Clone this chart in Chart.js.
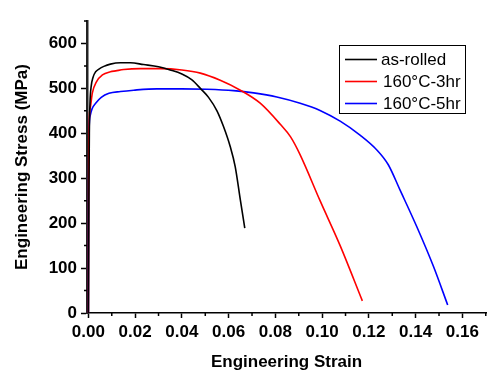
<!DOCTYPE html>
<html>
<head>
<meta charset="utf-8">
<script src="https://cdn.jsdelivr.net/npm/chart.js@4/dist/chart.umd.min.js"></script>
<style>
html,body{margin:0;padding:0;background:#fff;}
#wrap{width:494px;height:383px;position:relative;}
</style>
</head>
<body>
<div id="wrap"><canvas id="c" width="494" height="383"></canvas></div>
<script>
// ---- data ----
const seriesLabels = ['as-rolled', '160\u00B0C-3hr', '160\u00B0C-5hr'];
const seriesColors = ['#000000', '#ff0000', '#0000ff'];

const asRolledStrain = [0, 0.0002, 0.0004, 0.0007, 0.0012, 0.002, 0.0031, 0.0045, 0.0066, 0.0094, 0.0137, 0.018, 0.0236, 0.030, 0.035, 0.040, 0.0443, 0.0479, 0.0514, 0.055, 0.0578, 0.0607, 0.0628, 0.065, 0.0669];
const asRolledStress = [0, 250, 400, 470, 505, 525, 537, 543, 549, 554, 557, 557, 553, 548, 541, 532, 519, 500, 480, 450, 415, 370, 326, 252, 189];

const h3Strain = [0, 0.0001, 0.0003, 0.0009, 0.0017, 0.0035, 0.006, 0.0094, 0.0117, 0.0151, 0.0222, 0.0308, 0.040, 0.0479, 0.0564, 0.065, 0.0735, 0.0821, 0.0865, 0.0906, 0.0991, 0.1077, 0.1172];
const h3Stress = [0, 300, 420, 460, 490, 515, 530, 537, 539, 542, 544, 544, 541, 534, 518, 496, 467, 420, 392, 352, 250, 150, 27];

const h5Strain = [0, 0.0001, 0.0003, 0.0008, 0.0016, 0.0031, 0.0055, 0.0088, 0.0137, 0.0194, 0.0293, 0.040, 0.0507, 0.0621, 0.0707, 0.0806, 0.0906, 0.0991, 0.1077, 0.1162, 0.1234, 0.1283, 0.1333, 0.1405, 0.1476, 0.1537];
const h5Stress = [0, 300, 410, 440, 455, 467, 480, 489, 493, 496, 499, 499, 498, 495, 490, 481, 467, 451, 427, 396, 363, 330, 274, 192, 104, 18];

const xTickValues = [0, 0.02, 0.04, 0.06, 0.08, 0.10, 0.12, 0.14, 0.16];
const xMinorValues = [0.01, 0.03, 0.05, 0.07, 0.09, 0.11, 0.13, 0.15, 0.17];
const yTickValues = [0, 100, 200, 300, 400, 500, 600];
const yMinorValues = [50, 150, 250, 350, 450, 550, 650];

const xTitle = 'Engineering Strain';
const yTitle = 'Engineering Stress (MPa)';

// ---- build ----
const toPts = (xs, ys) => xs.map((x, i) => ({x: x, y: ys[i]}));
const FONT = '"Liberation Sans", Arial, Helvetica, sans-serif';

const minorTicks = {
  id: 'minorTicks',
  afterDraw(chart) {
    const ctx = chart.ctx;
    const xs = chart.scales.x, ys = chart.scales.y;
    ctx.save();
    ctx.strokeStyle = '#000';
    ctx.lineWidth = 1.5;
    ctx.beginPath();
    xMinorValues.forEach(v => {
      if (v > xs.max + 1e-9) return;
      const px = xs.getPixelForValue(v);
      ctx.moveTo(px, ys.bottom);
      ctx.lineTo(px, ys.bottom + 3);
    });
    yMinorValues.forEach(v => {
      if (v > ys.max + 1e-9) return;
      const py = ys.getPixelForValue(v);
      ctx.moveTo(xs.left, py);
      ctx.lineTo(xs.left - 3, py);
    });
    ctx.stroke();
    ctx.restore();
  }
};

const boxLegend = {
  id: 'boxLegend',
  afterDraw(chart) {
    const ctx = chart.ctx;
    const x0 = 339.5, y0 = 45.5, w = 126, h = 68;
    ctx.save();
    ctx.fillStyle = '#fff';
    ctx.fillRect(x0, y0, w, h);
    ctx.strokeStyle = '#000';
    ctx.lineWidth = 1;
    ctx.strokeRect(x0, y0, w, h);
    ctx.font = '17px ' + FONT;
    ctx.textBaseline = 'middle';
    ctx.textAlign = 'left';
    const rows = [59.5, 81.5, 103.5];
    chart.data.datasets.forEach((ds, i) => {
      const y = rows[i];
      ctx.strokeStyle = ds.borderColor;
      ctx.lineWidth = 1.6;
      ctx.beginPath();
      ctx.moveTo(345, y);
      ctx.lineTo(377, y);
      ctx.stroke();
      ctx.fillStyle = '#000';
      ctx.fillText(ds.label, i === 0 ? 381 : 383, y + 1);
    });
    ctx.restore();
  }
};

new Chart(document.getElementById('c'), {
  type: 'line',
  data: {
    datasets: [
      {label: seriesLabels[0], data: toPts(asRolledStrain, asRolledStress), borderColor: seriesColors[0]},
      {label: seriesLabels[1], data: toPts(h3Strain, h3Stress), borderColor: seriesColors[1]},
      {label: seriesLabels[2], data: toPts(h5Strain, h5Stress), borderColor: seriesColors[2]}
    ].map(d => Object.assign(d, {borderWidth: 1.6, pointRadius: 0, fill: false, cubicInterpolationMode: 'monotone'}))
  },
  options: {
    responsive: false,
    animation: false,
    devicePixelRatio: 1,
    layout: {padding: {left: 0, top: 21, right: 8, bottom: 0}},
    plugins: {legend: {display: false}, tooltip: {enabled: false}},
    scales: {
      x: {
        type: 'linear',
        min: -0.0006,
        max: 0.1701,
        afterBuildTicks: s => { s.ticks = xTickValues.map(v => ({value: v})); },
        afterFit: s => { s.height = 70; },
        border: {display: true, color: '#000', width: 1.5},
        grid: {display: true, drawOnChartArea: false, drawTicks: true, tickLength: 5, tickColor: '#000', tickWidth: 1.5},
        ticks: {
          color: '#000', padding: 4, maxRotation: 0,
          font: {family: FONT, size: 17, weight: 'bold'},
          callback: v => v.toFixed(2)
        },
        title: {display: true, text: xTitle, color: '#000', font: {family: FONT, size: 17, weight: 'bold'}, padding: {top: 0, bottom: 10}}
      },
      y: {
        type: 'linear',
        min: 0,
        max: 650,
        afterBuildTicks: s => { s.ticks = yTickValues.map(v => ({value: v})); },
        afterFit: s => { s.width = 87; },
        border: {display: true, color: '#222', width: 2.5},
        grid: {display: true, drawOnChartArea: false, drawTicks: true, tickLength: 6, tickColor: '#000', tickWidth: 1.5},
        ticks: {
          color: '#000', padding: 4,
          font: {family: FONT, size: 17, weight: 'bold'},
          callback: v => String(v)
        },
        title: {display: true, text: yTitle, color: '#000', font: {family: FONT, size: 17, weight: 'bold'}, padding: {top: 12, bottom: 0}}
      }
    }
  },
  plugins: [minorTicks, boxLegend]
});
</script>
</body>
</html>
